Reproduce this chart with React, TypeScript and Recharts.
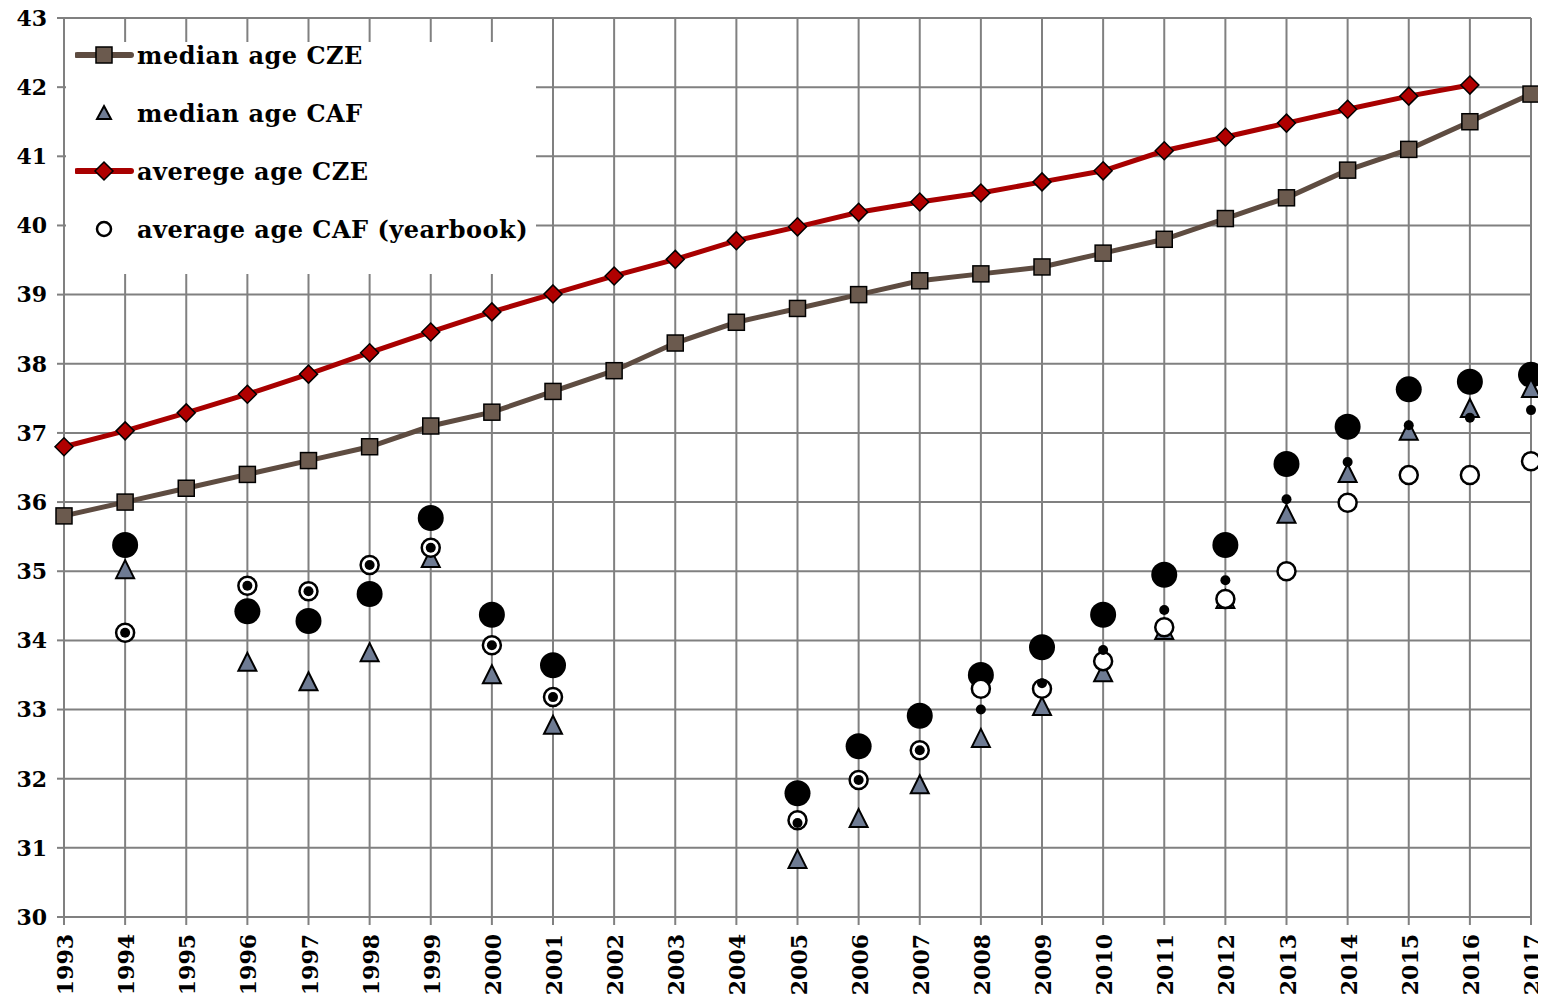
import React from "react";
import {
  ComposedChart,
  Line,
  XAxis,
  YAxis,
  CartesianGrid,
} from "recharts";

const years = [
  "1993", "1994", "1995", "1996", "1997", "1998", "1999", "2000", "2001",
  "2002", "2003", "2004", "2005", "2006", "2007", "2008", "2009", "2010",
  "2011", "2012", "2013", "2014", "2015", "2016", "2017",
];

const medianAgeCZE = [
  35.8, 36.0, 36.2, 36.4, 36.6, 36.8, 37.1, 37.3, 37.6, 37.9, 38.3, 38.6,
  38.8, 39.0, 39.2, 39.3, 39.4, 39.6, 39.8, 40.1, 40.4, 40.8, 41.1, 41.5, 41.9,
];

const averageAgeCZE = [
  36.8, 37.03, 37.29, 37.56, 37.85, 38.16, 38.46, 38.75, 39.01, 39.27, 39.51,
  39.78, 39.98, 40.19, 40.34, 40.47, 40.63, 40.79, 41.08, 41.28, 41.48, 41.68,
  41.87, 42.03, null,
];

const medianAgeCAF = [
  null, 35.03, null, 33.69, 33.41, 33.83, 35.19, 33.51, 32.78, null, null, null,
  30.84, 31.43, 31.92, 32.59, 33.05, 33.54, 34.15, 34.6, 35.83, 36.42, 37.03,
  37.36, 37.65,
];

const averageAgeCAFYearbook = [
  null, 34.11, null, 34.79, 34.71, 35.09, 35.34, 33.93, 33.18, null, null, null,
  31.4, 31.98, 32.41, 33.3, 33.3, 33.7, 34.19, 34.6, 35.0, 35.99, 36.39, 36.39,
  36.59,
];

// unlabelled series: large black dots and small black dots
const averageAgeCAF = [
  null, 35.38, null, 34.42, 34.28, 34.67, 35.77, 34.37, 33.64, null, null, null,
  31.79, 32.47, 32.91, 33.5, 33.9, 34.37, 34.95, 35.38, 36.55, 37.09, 37.63,
  37.74, 37.84,
];

const averageAgeCAFOther = [
  null, 34.11, null, 34.79, 34.71, 35.09, 35.34, 33.93, 33.18, null, null, null,
  31.36, 31.98, 32.41, 33.0, 33.38, 33.86, 34.44, 34.87, 36.04, 36.58, 37.11,
  37.22, 37.33,
];

const yTicks = [30, 31, 32, 33, 34, 35, 36, 37, 38, 39, 40, 41, 42, 43];

const data = years.map((year, i) => ({
  year,
  medianCZE: medianAgeCZE[i],
  averageCZE: averageAgeCZE[i],
  medianCAF: medianAgeCAF[i],
  yearbookCAF: averageAgeCAFYearbook[i],
  bigCAF: averageAgeCAF[i],
  smallCAF: averageAgeCAFOther[i],
}));

const FONT = "'DejaVu Serif', serif";
const GRID = "#808080";
const BROWN = "#5e4c41";
const BROWN_FILL = "#6b5a4e";
const RED = "#a80000";
const SLATE = "#6e7b93";

const ok = (p: any) => p.value != null && p.cy != null && !isNaN(p.cy);

const SquareDot = (p: any) =>
  ok(p) ? (
    <rect key={p.key} x={p.cx - 8} y={p.cy - 8} width={16} height={16}
      fill={BROWN_FILL} stroke="#000" strokeWidth={1.5} />
  ) : <g key={p.key} />;

const DiamondDot = (p: any) =>
  ok(p) ? (
    <polygon key={p.key}
      points={`${p.cx},${p.cy - 9} ${p.cx + 9},${p.cy} ${p.cx},${p.cy + 9} ${p.cx - 9},${p.cy}`}
      fill="#b00000" stroke="#000" strokeWidth={1.5} />
  ) : <g key={p.key} />;

const TriangleDot = (p: any) =>
  ok(p) ? (
    <polygon key={p.key}
      points={`${p.cx},${p.cy - 9} ${p.cx + 9},${p.cy + 9} ${p.cx - 9},${p.cy + 9}`}
      fill={SLATE} stroke="#000" strokeWidth={2} />
  ) : <g key={p.key} />;

const WhiteDot = (p: any) =>
  ok(p) ? (
    <circle key={p.key} cx={p.cx} cy={p.cy} r={9} fill="#fff" stroke="#000" strokeWidth={2.5} />
  ) : <g key={p.key} />;

const BigDot = (p: any) =>
  ok(p) ? <circle key={p.key} cx={p.cx} cy={p.cy} r={13} fill="#000" /> : <g key={p.key} />;

const SmallDot = (p: any) =>
  ok(p) ? <circle key={p.key} cx={p.cx} cy={p.cy} r={5} fill="#000" /> : <g key={p.key} />;

const XTick = (props: any) => {
  const { x, y, payload } = props;
  return (
    <text x={x + 1} y={y + 1} transform={`rotate(-90 ${x + 1} ${y + 1})`} textAnchor="end"
      dominantBaseline="central" fontFamily={FONT} fontWeight="bold" fontSize={22} fill="#000">
      {payload.value}
    </text>
  );
};

const legendItems = [
  { label: "median age CZE", kind: "square" },
  { label: "median age CAF", kind: "triangle" },
  { label: "averege age CZE", kind: "diamond" },
  { label: "average age CAF (yearbook)", kind: "circle" },
];

const LegendIcon = ({ kind }: { kind: string }) => (
  <svg width={60} height={24} style={{ flex: "none" }}>
    {kind === "square" && (
      <>
        <line x1={2} y1={12} x2={56} y2={12} stroke={BROWN} strokeWidth={6} strokeLinecap="round" />
        <rect x={21} y={4} width={16} height={16} fill={BROWN_FILL} stroke="#000" strokeWidth={1.5} />
      </>
    )}
    {kind === "diamond" && (
      <>
        <line x1={2} y1={12} x2={56} y2={12} stroke={RED} strokeWidth={6} strokeLinecap="round" />
        <polygon points="29,3 38,12 29,21 20,12" fill="#b00000" stroke="#000" strokeWidth={1.5} />
      </>
    )}
    {kind === "triangle" && (
      <polygon points="29,5 36,18 22,18" fill={SLATE} stroke="#000" strokeWidth={2} />
    )}
    {kind === "circle" && (
      <circle cx={29} cy={12} r={7} fill="#fff" stroke="#000" strokeWidth={2.5} />
    )}
  </svg>
);

const LegendBox = () => (
  <div style={{ position: "absolute", left: 58, top: 34, background: "#fff", width: 470,
    height: 232, paddingTop: 0, boxSizing: "border-box" }}>
    {legendItems.map((it) => (
      <div key={it.label}
        style={{ display: "flex", alignItems: "center", height: 24, marginTop: 1, marginBottom: 34,
          paddingLeft: 9, fontFamily: FONT, fontWeight: "bold", fontSize: 24, letterSpacing: 0.5,
          color: "#000", whiteSpace: "nowrap" }}>
        <LegendIcon kind={it.kind} />
        <span style={{ marginLeft: 2 }}>{it.label}</span>
      </div>
    ))}
  </div>
);

export default function App() {
  return (
    <div style={{ position: "relative", width: 1538, height: 990 }}>
      <ComposedChart width={1538} height={990} data={data}
        margin={{ top: 10, right: 15, left: 0, bottom: 0 }}>
        <CartesianGrid stroke={GRID} strokeWidth={2} />
        <XAxis dataKey="year" interval={0} height={81} tickSize={8} tickMargin={8}
          stroke={GRID} strokeWidth={2} tick={<XTick />} />
        <YAxis type="number" domain={[30, 43]} ticks={yTicks} interval={0} width={56}
          tickSize={7} tickMargin={10} stroke={GRID} strokeWidth={2}
          tick={{ fill: "#000", fontFamily: FONT, fontWeight: "bold", fontSize: 22 }} />
        <Line dataKey="medianCZE" stroke={BROWN} strokeWidth={5} dot={<SquareDot />}
          activeDot={false} isAnimationActive={false} />
        <Line dataKey="averageCZE" stroke={RED} strokeWidth={5} dot={<DiamondDot />}
          activeDot={false} isAnimationActive={false} />
        <Line dataKey="bigCAF" stroke="none" dot={<BigDot />} activeDot={false}
          isAnimationActive={false} />
        <Line dataKey="medianCAF" stroke="none" dot={<TriangleDot />} activeDot={false}
          isAnimationActive={false} />
        <Line dataKey="yearbookCAF" stroke="none" dot={<WhiteDot />} activeDot={false}
          isAnimationActive={false} />
        <Line dataKey="smallCAF" stroke="none" dot={<SmallDot />} activeDot={false}
          isAnimationActive={false} />
      </ComposedChart>
      <LegendBox />
    </div>
  );
}
